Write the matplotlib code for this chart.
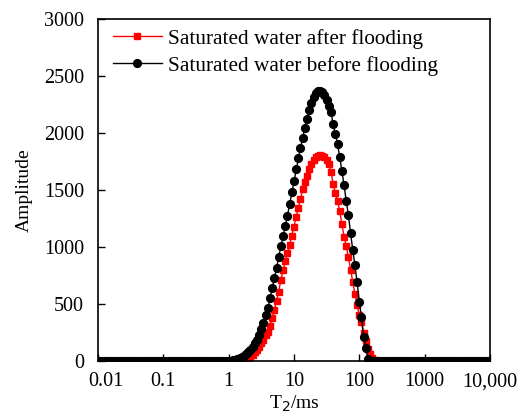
import numpy as np
import matplotlib.pyplot as plt
from matplotlib.ticker import FixedLocator, FixedFormatter
from matplotlib.transforms import ScaledTranslation

# T2 grid of the NMR inversion: 0.01 - 10000 ms, 30 points per decade
T2 = np.logspace(-2, 4, 181)

# amplitudes, starting at T2 = 1 ms (index 60)
before_peak = [3, 5, 8, 12, 17, 25, 33, 45, 60, 78,
               98, 122, 155, 188, 232, 285, 334, 402, 462, 550,
               640, 725, 815, 915, 1005, 1095, 1185, 1275, 1375, 1480,
               1580, 1680, 1780, 1870, 1960, 2045, 2125, 2200, 2265, 2315,
               2348, 2366, 2370, 2360, 2335, 2292, 2240, 2180, 2075, 1990,
               1905, 1790, 1665, 1545, 1405, 1280, 1120, 975, 840, 690,
               520, 385, 215, 115, 15, 0, 0, 0, 0, 0]
after_peak = [0, 0, 0, 0, 0, 0, 3, 8, 15, 26,
              40, 58, 78, 98, 128, 157, 186, 226, 258, 310,
              375, 450, 530, 608, 715, 795, 875, 945, 1020, 1100,
              1180, 1260, 1345, 1420, 1505, 1570, 1625, 1680, 1725, 1760,
              1785, 1800, 1807, 1800, 1785, 1763, 1725, 1660, 1555, 1475,
              1408, 1315, 1205, 1090, 1010, 910, 800, 695, 590, 490,
              405, 340, 250, 178, 108, 62, 30, 8, 0, 0]

n_left = 60
n_right = len(T2) - n_left - len(before_peak)
before = [0] * n_left + before_peak + [0] * n_right
after = [0] * n_left + after_peak + [0] * n_right

xticks = [0.01, 0.1, 1, 10, 100, 1000, 10000]
xticklabels = ['0.01', '0.1', '1', '10', '100', '1000', '10,000']

plt.rcParams['font.family'] = ['Liberation Serif', 'DejaVu Serif']
plt.rcParams['font.size'] = 14

fig = plt.figure(figsize=(5.24, 4.19), dpi=100)
ax = fig.add_axes([0.187, 0.138, 0.748, 0.817])

ax.plot(T2, after, color='red', marker='s', markersize=4.8, lw=1,
        label='Saturated water after flooding')
ax.plot(T2, before, color='black', marker='o', markersize=5.6, lw=1,
        label='Saturated water before flooding')

ax.set_xscale('log')
ax.set_xlim(0.01, 10000)
ax.set_ylim(0, 3000)
ax.xaxis.set_major_locator(FixedLocator(xticks))
ax.xaxis.set_major_formatter(FixedFormatter(xticklabels))
ax.xaxis.set_minor_locator(FixedLocator([]))
ax.set_yticks(range(0, 3001, 500))

ax.tick_params(direction='in', length=5, width=1, labelsize=14.5)
ax.tick_params(axis='x', pad=8)
ax.tick_params(axis='y', pad=10)
for s in ax.spines.values():
    s.set_linewidth(1.2)

# first x label sits a bit to the right of its tick in the original
lab0 = ax.get_xticklabels()[0]
lab0.set_transform(lab0.get_transform() + ScaledTranslation(0.08, 0, fig.dpi_scale_trans))

ax.set_xlabel('T$_2$/ms', fontsize=14, labelpad=2)
ax.set_ylabel('Amplitude', fontsize=14, labelpad=8)

ax.legend(loc='upper left', bbox_to_anchor=(0.0, 1.015), frameon=False,
          numpoints=1, handlelength=2.3, handletextpad=0.28,
          labelspacing=0.35, borderaxespad=0.3, fontsize=15.3)

fig.savefig('out.png', dpi=100)
